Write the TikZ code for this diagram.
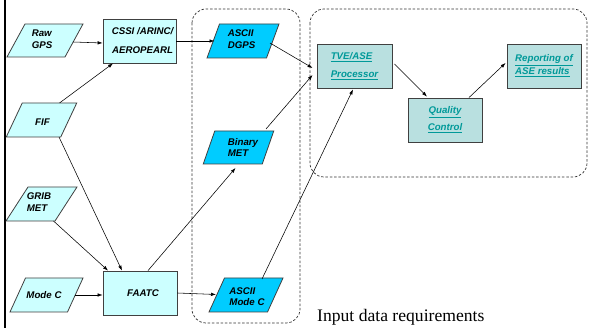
\documentclass[tikz,border=0pt]{standalone}
\usepackage{fontspec}
\setmainfont{Liberation Serif}
\setsansfont{Liberation Sans}
\usetikzlibrary{calc,arrows.meta}
\definecolor{lightcy}{HTML}{CCFFFF}
\definecolor{brightcy}{HTML}{00CCFF}
\definecolor{procfill}{HTML}{B9E0E0}
\definecolor{tealtxt}{HTML}{009999}
\newcommand\paragram[7]{% cx, cy, edge length, slant, height, fill, unused
  \filldraw[parashape,fill=#6] ({#1-#3/2-#4/2},{#2+#5/2}) -- ({#1+#3/2-#4/2},{#2+#5/2}) -- ({#1+#3/2+#4/2},{#2-#5/2}) -- ({#1-#3/2+#4/2},{#2-#5/2}) -- cycle;}
\begin{document}
\begin{tikzpicture}[x=1pt,y=-1pt,
  parashape/.style={draw=black!75,line width=0.8pt},
  intxt/.style={font=\sffamily\bfseries\itshape\fontsize{9.7}{11.5}\selectfont,align=left,inner sep=0pt},
  inbox/.style={draw=black!75,line width=0.8pt,fill=lightcy,minimum width=73pt,minimum height=44pt,inner sep=0pt,
    font=\sffamily\bfseries\itshape\fontsize{9.7}{19}\selectfont,align=center},
  procbox/.style={draw=black!75,line width=0.9pt,fill=procfill,minimum width=75pt,minimum height=44pt,inner sep=0pt,
    text=tealtxt,font=\sffamily\bfseries\itshape\fontsize{9.7}{18}\selectfont},
  conn/.style={line width=0.55pt,-{Latex[length=5pt,width=3.5pt]}},
  group/.style={draw=black!80,line width=0.7pt,dash pattern=on 2.5pt off 1.8pt,rounded corners=14pt}]
\useasboundingbox (0,0) rectangle (589,328);
\fill[white] (0,0) rectangle (589,328);
\draw[line width=2.6pt] (5,0) -- (5,328);

% groups
\draw[group] (192,9) rectangle (300,323);
\draw[group] (310,9) rectangle (587,177);

% parallelograms
\paragram{45}{40.5}{58}{18}{33}{lightcy}{}
\paragram{41.5}{120}{54.5}{16}{34}{lightcy}{}
\paragram{41.5}{204}{49}{22}{34}{lightcy}{}
\paragram{46.5}{295}{57.5}{15.5}{34}{lightcy}{}
\paragram{243}{41}{59.5}{12.5}{34}{brightcy}{}
\paragram{238.5}{147.5}{59}{11.5}{33}{brightcy}{}
\paragram{246}{295}{58.5}{15.5}{34}{brightcy}{}

\node[intxt] (raw) at (42,39) {Raw\\GPS};
\node[intxt] (fif) at (42.5,122) {FIF};
\node[intxt] (grib) at (39,202) {GRIB\\MET};
\node[intxt] (modec) at (44,295) {Mode C};
\node[intxt] (dgps) at (241.5,39) {ASCII\\DGPS};
\node[intxt] (binmet) at (243,147.5) {Binary\\MET};
\node[intxt] (amc) at (247,296.5) {ASCII\\Mode C};

% boxes
\node[inbox] (cssi) at (139.5,41) {\hspace*{6pt}CSSI /ARINC/\\\hspace*{6pt}AEROPEARL};
\node[inbox,minimum width=74pt] (faatc) at (140,293) {\hspace*{6pt}FAATC};

\node[procbox,align=left] (tve) at (354.5,66) {\underline{TVE/ASE}\\\underline{Processor}};
\node[procbox,minimum width=74pt,align=center,font=\sffamily\bfseries\itshape\fontsize{9.7}{17}\selectfont] (qc) at (445,120) {\underline{Quality}\\\underline{Control}};
\node[procbox,minimum width=74pt,align=left,font=\sffamily\bfseries\itshape\fontsize{9.7}{11.5}\selectfont] (rep) at (544,66) {\raisebox{1.5pt}{\underline{Reporting of}}\\\underline{ASE results}};

% connectors
\draw[conn] ($(raw.center)+(31,3)$) -- ($(cssi.west)+(0,2)$);
\draw[conn] ($(fif.center)+(17,-19)$) -- ($(cssi.south)+(-26.5,0)$);
\draw[conn] (cssi.east) -- ($(dgps.center)+(-27,2)$);
\draw[conn] ($(dgps.center)+(28.5,4)$) -- ($(tve.west)+(-4,2)$);
\draw[conn] ($(binmet.center)+(23,-18.5)$) -- ($(tve.west)+(-4,9)$);
\draw[conn] ($(fif.center)+(16.5,15)$) -- ($(faatc.north)+(-18,0)$);
\draw[conn] ($(grib.center)+(14.5,19)$) -- ($(faatc.north)+(-32,0)$);
\draw[conn] ($(modec.center)+(31,0)$) -- (modec.center -| faatc.west);
\draw[conn] (faatc.east) -- ($(amc.center)+(-31,-2)$);
\draw[conn] ($(faatc.north)+(8,0)$) -- ($(binmet.center)+(-7.5,20.5)$);
\draw[conn] ($(amc.center)+(15,-17.5)$) -- ($(tve.south)+(-1.5,1)$);
\draw[conn] ($(tve.east)+(2,-2)$) -- ($(qc.north)+(-18,-1)$);
\draw[conn] ($(qc.north)+(24,0)$) -- ($(rep.west)+(-1,-3)$);

\node[anchor=base west,inner sep=0pt,font=\fontsize{17.6}{19}\selectfont] (cap) at (317,321.7) {Input data requirements};
\end{tikzpicture}
\end{document}
